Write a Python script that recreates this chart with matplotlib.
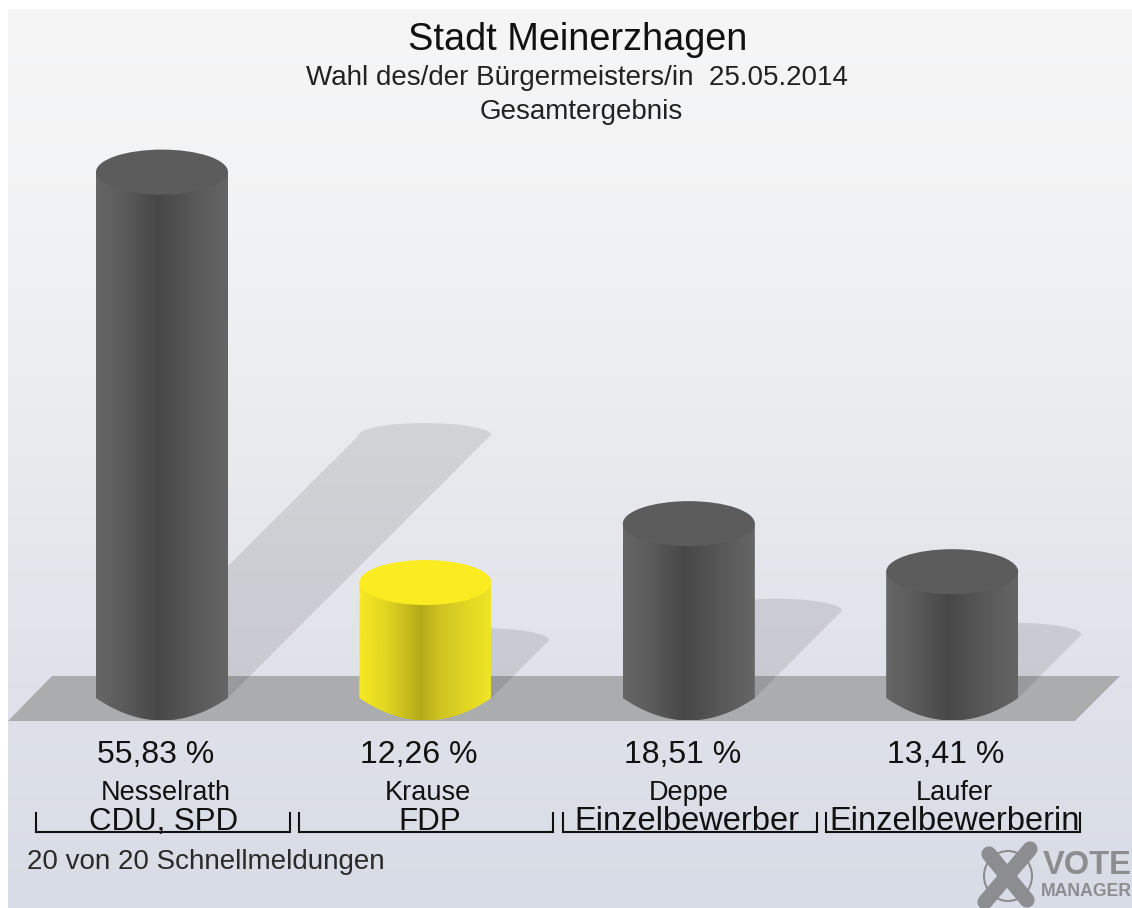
import numpy as np
import matplotlib
matplotlib.use("Agg")
import matplotlib.pyplot as plt
from matplotlib.colors import LinearSegmentedColormap
from matplotlib.patches import PathPatch, Polygon, Ellipse
from matplotlib.path import Path

plt.rcParams['font.family'] = ['Liberation Sans', 'DejaVu Sans']

# values from the picture
names = ["Nesselrath", "Krause", "Deppe", "Laufer"]
parties = ["CDU, SPD", "FDP", "Einzelbewerber", "Einzelbewerberin"]
percent = [55.83, 12.26, 18.51, 13.41]
percent_labels = ["55,83 %", "12,26 %", "18,51 %", "13,41 %"]

W, H = 1132, 908
X0, XSTEP = 162.0, 263.4   # pixel of first bar, pixels between bars
Y0, YSCALE = 698.0, 9.42   # pixel of 0 %, pixels per 1 %
HALF_W = 66 / XSTEP
RY = 22.5 / YSCALE         # ellipse half height

dark = ["#666666", "#5c5c5c", "#474747", "#515151", "#5e5e5e", "#656565"]
yellow = ["#f7ea22", "#e2d622", "#b5aa1a", "#cfc420", "#e4d924", "#f0e426"]
stops = [0, 0.2, 0.47, 0.62, 0.85, 1]

fig = plt.figure(figsize=(W / 100, H / 100), dpi=100, facecolor="white")

# page layer in pixels: background, floor, text, logo
pix = fig.add_axes([0, 0, 1, 1])
pix.set_axis_off()
bg = LinearSegmentedColormap.from_list("bg", ["#f6f6f7", "#f1f2f3", "#e8eaee", "#dfe2ea", "#d8dce6"])
pix.imshow(np.linspace(0, 1, 256).reshape(-1, 1), cmap=bg, aspect="auto",
           extent=(8, W, H, 9), zorder=0)
pix.add_patch(Polygon([(8, 721), (52, 676), (1120, 676), (1075, 721)],
                      facecolor="#aaacae", edgecolor="none", zorder=1))
pix.set_xlim(0, W)
pix.set_ylim(H, 0)

# bars layer: x = candidate index, y = percent
ax = fig.add_axes([0, 0, 1, 1], zorder=2)
ax.set_axis_off()
ax.patch.set_alpha(0)
xlim = (-X0 / XSTEP, (W - X0) / XSTEP)
ylim = ((Y0 - H) / YSCALE, Y0 / YSCALE)


def shadow(i, v):
    # floor shadow leans up and to the right, half the bar height
    dy = 0.5 * v
    dx = dy * YSCALE / XSTEP
    t = np.linspace(np.pi, 0, 40)
    arc_x = i + dx + HALF_W * np.cos(t)
    arc_y = dy + (12 / YSCALE) * np.sin(t)
    xs = np.r_[i - HALF_W, arc_x, i + HALF_W]
    ys = np.r_[0, arc_y, 0]
    ax.add_patch(Polygon(np.c_[xs, ys], facecolor="black", alpha=0.1,
                         edgecolor="none", zorder=1))


def cylinder(i, v, colors, top_color):
    # bottom edge is flatter at the corners than an ellipse, more of a lens
    u = np.linspace(-1, 1, 60)
    xs = np.r_[i + HALF_W * u, i + HALF_W, i - HALF_W]
    ys = np.r_[-RY * (1 - u ** 2), v, v]
    clip = PathPatch(Path(np.c_[xs, ys]), transform=ax.transData,
                     facecolor="none", edgecolor="none")
    ax.add_patch(clip)
    cmap = LinearSegmentedColormap.from_list("c", list(zip(stops, colors)))
    im = ax.imshow(np.linspace(0, 1, 256).reshape(1, -1), cmap=cmap, aspect="auto",
                   extent=(i - HALF_W, i + HALF_W, -RY, v), zorder=3)
    im.set_clip_path(clip)
    ax.add_patch(Ellipse((i, v), 2 * HALF_W, 2 * RY, facecolor=top_color,
                         edgecolor="none", zorder=4))


for i, v in enumerate(percent):
    shadow(i, v)
for i, v in enumerate(percent):
    if names[i] == "Krause":
        cylinder(i, v, yellow, "#fbec22")
    else:
        cylinder(i, v, dark, "#5c5c5c")
ax.set_xlim(xlim)
ax.set_ylim(ylim)

# headings
pix.text(578, 40, "Stadt Meinerzhagen", ha="center", va="center", fontsize=27.3, color="#111111")
pix.text(577, 78, "Wahl des/der Bürgermeisters/in  25.05.2014", ha="center", va="center",
         fontsize=20, color="#222222")
pix.text(581, 112, "Gesamtergebnis", ha="center", va="center", fontsize=20, color="#222222")

# labels under the bars
pct_x = [156, 419, 683, 946]
name_x = [166, 428, 689, 954]
party_x = [164, 430, 687, 955]
party_fs = [22.5, 22.5, 23.5, 23.5]
brackets = [(36, 290), (299, 553), (563, 817), (826, 1080)]
for k in range(4):
    pix.text(pct_x[k], 755, percent_labels[k], ha="center", va="center", fontsize=23, color="#111111")
    pix.text(name_x[k], 793, names[k], ha="center", va="center", fontsize=19.5, color="#111111")
    pix.text(party_x[k], 822, parties[k], ha="center", va="center", fontsize=party_fs[k], color="#111111")
    a, b = brackets[k]
    pix.plot([a, a, b, b], [813, 832, 832, 813], color="#111111", lw=1.5,
             solid_joinstyle="miter", zorder=5)

pix.text(27, 862, "20 von 20 Schnellmeldungen", ha="left", va="center", fontsize=20, color="#2a2a2a")

# VoteManager mark
logo = "#8b8d90"
pix.plot([989, 1027], [854, 900], color=logo, lw=11, solid_capstyle="round", zorder=3)
pix.plot([1030, 985], [849, 902], color=logo, lw=11, solid_capstyle="round", zorder=3)
pix.add_patch(Ellipse((1008, 876), 48, 50, facecolor="none", edgecolor=logo, lw=1.5, zorder=2))
pix.text(1043, 866, "VOTE", ha="left", va="center", fontsize=23.5, fontweight="bold", color=logo)
pix.text(1041, 891, "MANAGER", ha="left", va="center", fontsize=12.7, fontweight="bold", color=logo)

fig.savefig("out.png", dpi=100)
